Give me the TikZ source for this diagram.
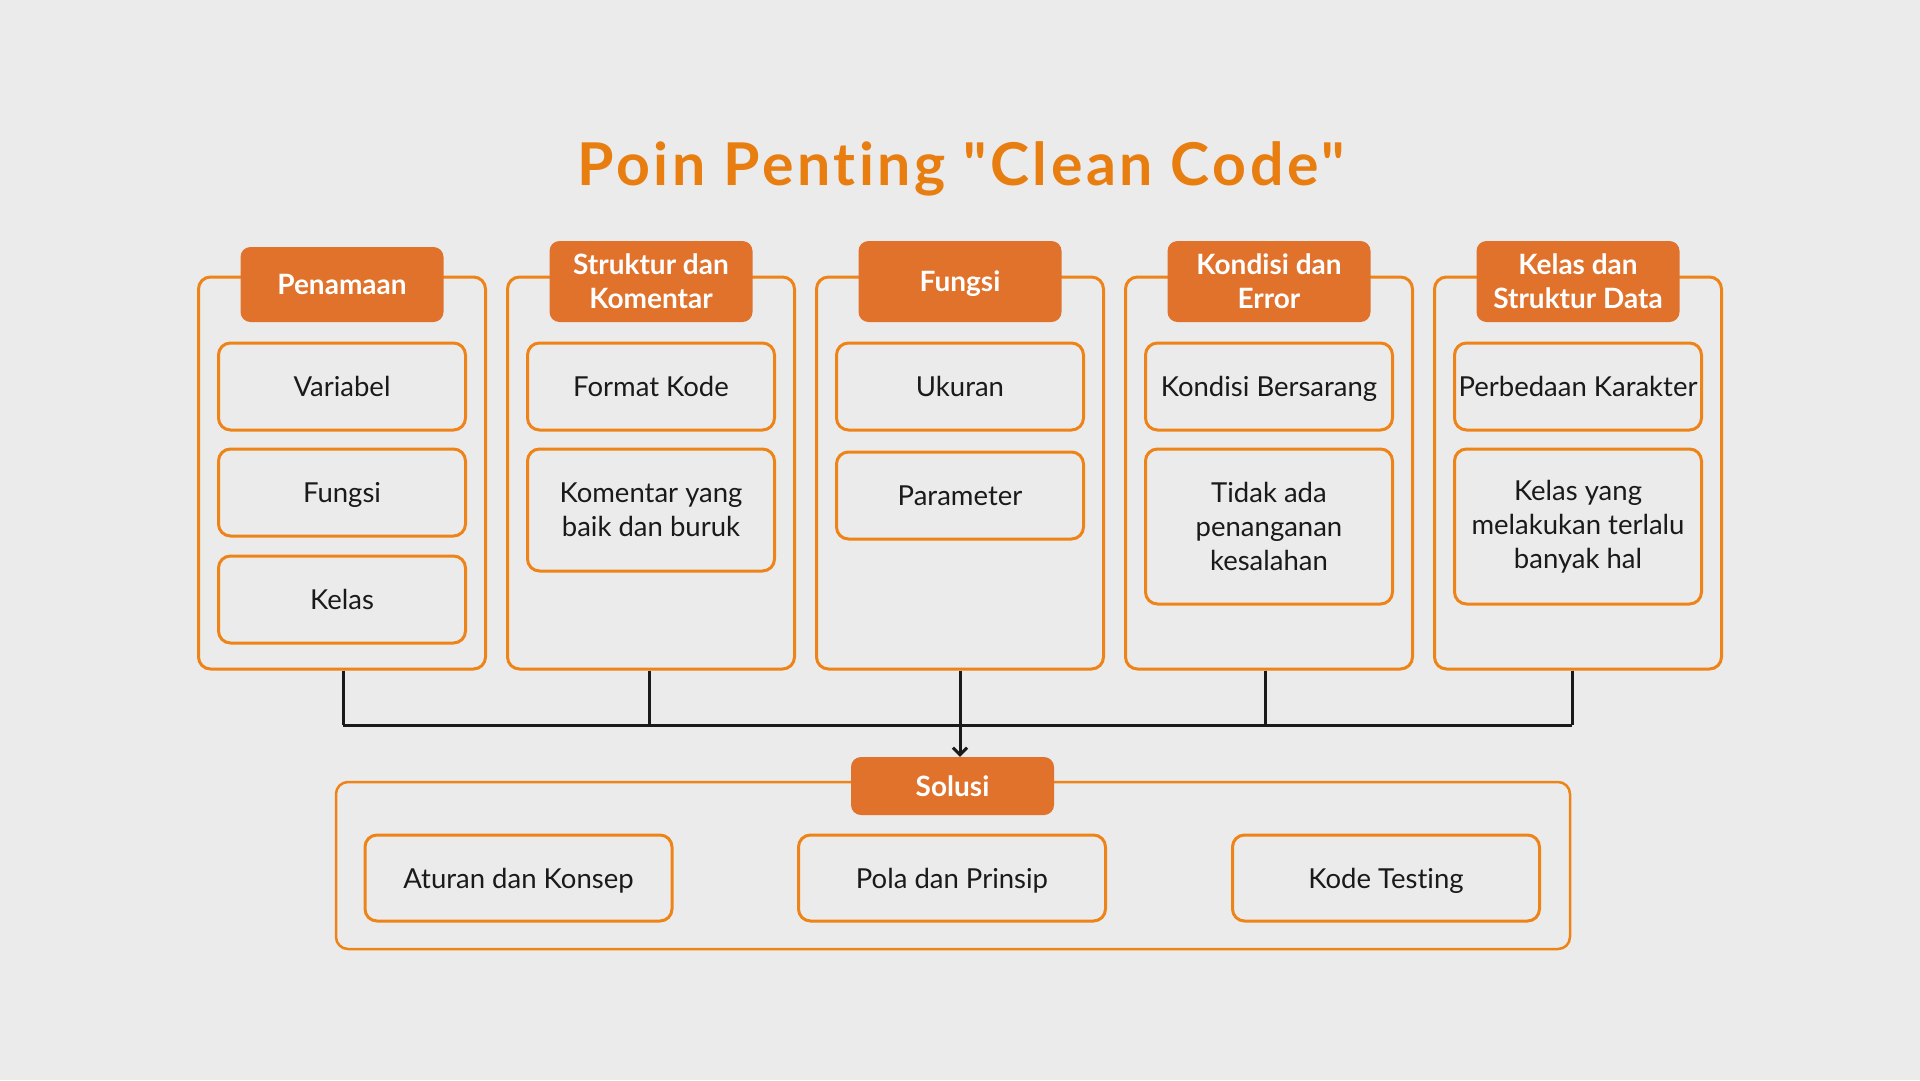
\documentclass[tikz,border=0pt]{standalone}
\usepackage{fontspec}
\setmainfont[Ligatures=NoCommon]{Lato}
\newfontfamily\titlefont[LetterSpace=6,Ligatures=NoCommon]{Lato}
\usepackage{xcolor}
\usetikzlibrary{arrows.meta,positioning}

\definecolor{bggray}{HTML}{EBEBEB}
\definecolor{titleorange}{HTML}{E87D10}
\definecolor{headorange}{HTML}{E0722C}
\definecolor{lineorange}{HTML}{EE8418}
\definecolor{darkline}{HTML}{1A1A1A}

\begin{document}
\begin{tikzpicture}[
  x=1pt, y=-1pt,
  >={Straight Barb[length=7pt,width=14pt]},
  colbox/.style={draw=lineorange, line width=3pt, rounded corners=12pt,
    minimum width=287pt, minimum height=392pt},
  headbox/.style={fill=headorange, rounded corners=10pt, text=white,
    font=\fontsize{28}{34}\selectfont\bfseries, align=center,
    minimum width=203pt, minimum height=81pt, inner sep=0pt},
  itembox/.style={draw=lineorange, line width=3pt, rounded corners=12pt,
    font=\fontsize{27.5}{34}\selectfont, text=darkline, align=center,
    minimum width=247pt, minimum height=87pt, inner sep=0pt},
  oneline/.style={text height=20pt, text depth=0pt},
]
% Background
\fill[bggray] (0,0) rectangle (1920,1080);
\useasboundingbox (0,0) rectangle (1920,1080);

% Title
\node[text=titleorange, font=\titlefont\fontsize{59}{70}\selectfont\bfseries] (title) at (961,169) {Poin Penting "Clean Code"};

% Columns
\node[colbox] (col1) at (342,473) {};
\node[colbox] (col2) at (651,473) {};
\node[colbox] (col3) at (960,473) {};
\node[colbox] (col4) at (1269,473) {};
\node[colbox] (col5) at (1578,473) {};

\node[headbox, oneline, minimum height=75pt] (head1) at (342,284.5) {Penamaan};
\node[headbox] (head2) at (651,281.5) {Struktur dan\\Komentar};
\node[headbox, oneline] (head3) at (960,281.5) {Fungsi};
\node[headbox] (head4) at (1269,281.5) {Kondisi dan\\Error};
\node[headbox] (head5) at (1578,281.5) {Kelas dan\\Struktur Data};

% Items
\node[itembox, oneline] (var) at (342,386.5) {Variabel};
\node[itembox, oneline] (fun) at (342,492.5) {Fungsi};
\node[itembox, oneline] (kel) at (342,599.5) {Kelas};

\node[itembox, oneline] (fmt) at (651,386.5) {Format Kode};
\node[itembox, minimum height=122pt] (kom) at (651,510) {Komentar yang\\baik dan buruk};

\node[itembox, oneline] (uku) at (960,386.5) {Ukuran};
\node[itembox, oneline] (par) at (960,495.5) {Parameter};

\node[itembox, oneline] (kon) at (1269,386.5) {Kondisi Bersarang};
\node[itembox, minimum height=155pt] (tid) at (1269,526.5) {Tidak ada\\penanganan\\kesalahan};

\node[itembox, oneline] (per) at (1578,386.5) {Perbedaan Karakter};
\node[itembox, minimum height=155pt] (kls) at (1578,526.5) {Kelas yang\\melakukan terlalu\\banyak hal};

% Solusi
\node[colbox, line width=2.5pt, minimum width=1234pt, minimum height=167pt] (solbox) at (953,865.5) {};
\node[headbox, oneline, minimum height=58pt] (solhead) at (952.5,786) {Solusi};

\node[itembox, oneline, minimum width=307pt, minimum height=86pt] (atu) at (518.5,878) {Aturan dan Konsep};
\node[itembox, oneline, minimum width=307pt, minimum height=86pt] (pol) at (952,878) {Pola dan Prinsip};
\node[itembox, oneline, minimum width=307pt, minimum height=86pt] (tes) at (1386,878) {Kode Testing};

% Connectors
\coordinate (bus) at (960,725);
\foreach \c/\dx in {col1/1,col2/-2,col4/-4,col5/-6} {
  \draw[darkline, line width=3pt] ([xshift=\dx pt]\c.south) -- ([xshift=\dx pt]\c.south |- bus);
}
\draw[darkline, line width=3pt] ([xshift=1pt]col1.south |- bus) -- ([xshift=-6pt]col5.south |- bus);
\draw[darkline, line width=3pt, ->] (col3.south) -- (col3.south |- solhead.north);
\end{tikzpicture}
\end{document}
